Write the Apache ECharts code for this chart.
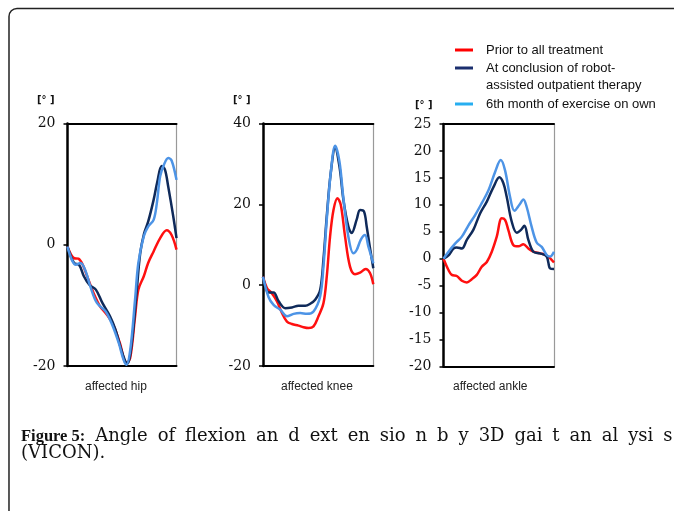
<!DOCTYPE html>
<html>
<head>
<meta charset="utf-8">
<script src="https://cdn.jsdelivr.net/npm/echarts@6/dist/echarts.min.js"></script>
<style>
html,body{margin:0;padding:0;background:#fff;}
#chart{width:674px;height:511px;}
</style>
</head>
<body>
<div id="chart"></div>
<script>
// Series names (legend)
const seriesNames = [
  'Prior to all treatment',
  'At conclusion of robot-\nassisted outpatient therapy',
  '6th month of exercise on own'
];
const panelNames = ['affected hip', 'affected knee', 'affected ankle'];
const unitLabel = '[\u00b0 ]';

// y-axis ranges / tick intervals per panel
const hipTicks = {min: -20, max: 20, interval: 20};
const kneeTicks = {min: -20, max: 40, interval: 20};
const ankleTicks = {min: -20, max: 25, interval: 5};

// data: [gait cycle %, angle deg]
const hipPrior = [[0,-0.3],[6,-2.2],[10,-2.3],[14,-3.3],[18,-5.2],[24,-8],[30,-10.2],[36,-11.5],[42,-13.2],[48,-16.2],[54,-19.5],[57.5,-18.7],[62,-11.8],[65,-7.4],[70,-5.2],[74,-3],[79,-1.1],[85,1.1],[91,2.4],[95.5,1.6],[100,-0.8]];
const hipRobot = [[0,-0.3],[6,-3],[10.6,-3.3],[15,-5.2],[20,-6.6],[26,-7.4],[32,-9.6],[39,-11.8],[44,-14],[48.5,-16.8],[53,-19.2],[55,-19.6],[59,-16.2],[63.6,-7.4],[66.7,-1.4],[70.3,1.9],[74,3.8],[79,7.4],[82.4,10.4],[86.4,13],[89.4,12.4],[92.4,9.6],[97,4.7],[100,1.1]];
const hipOwn = [[0,-0.3],[7.6,-3.3],[12,-3],[16.7,-4.4],[21,-6.9],[27,-9.6],[35,-11],[41,-13.2],[47,-16.2],[51.5,-19],[54,-19.8],[57.6,-17.3],[62,-9],[65,-3],[70,1.4],[74,3],[79,4.1],[82,6.9],[85,11.3],[88.5,13.2],[92.4,14.3],[95.5,13.9],[100,10.7]];

const kneePrior = [[0,2.1],[3.6,-0.7],[8,-2],[12.7,-4],[17.2,-6.9],[21.7,-9],[26.2,-9.6],[32.2,-10],[36.7,-10.4],[41.3,-10.6],[45.8,-10.2],[50.3,-7.7],[54.8,-4.5],[57.8,2.1],[60.8,12],[63.9,18.6],[67.5,21.5],[70.5,19.9],[74.4,12],[78.9,4.6],[83.4,2.7],[88,3.1],[93.1,4],[97,3],[100,0.2]];
const kneeRobot = [[0,2.1],[5.1,-1.8],[9.6,-1.8],[14.2,-4],[20.2,-5.7],[26.2,-5.5],[32.2,-5.1],[38.3,-5.1],[42.8,-4.6],[47.3,-3.6],[51.8,-1.2],[54.8,6.3],[57.8,17],[61.4,27.7],[65.4,33.9],[69.3,29.4],[72.9,21.1],[77.4,14.5],[80.4,12.9],[84.9,16.2],[88,18.6],[91.6,18.2],[94,14.5],[97,9.2],[100,4.2]];
const kneeOwn = [[0,2.1],[5.1,-3],[9.6,-4.9],[15.7,-6.1],[21.7,-7.7],[27.7,-7.1],[33.7,-6.9],[39.8,-7.1],[45.8,-6.5],[51.8,-2.8],[54.8,4.6],[57.8,16.2],[61.4,27.7],[65.4,34.5],[69.3,30.6],[72.9,21.5],[77.4,12],[81.9,7.9],[84.9,8.7],[88.6,11.2],[92.5,12.4],[95.5,9.6],[100,5.4]];

const anklePrior = [[0,0],[4.5,-2.1],[7.5,-3],[12,-3.2],[16.6,-4.1],[21.1,-4.4],[25.6,-3.8],[30.1,-3],[34.6,-1.5],[39.2,-0.6],[43.7,1.3],[48.2,4.1],[52.7,7.5],[55.7,7.2],[58.7,5.3],[63.3,2.5],[67.8,2.3],[72.3,2.7],[76.8,1.9],[81.3,1.3],[87.3,1],[93.4,0.6],[100,-0.7]];
const ankleRobot = [[0,0],[4.5,0.6],[9,1.9],[12,2.1],[16.6,1.9],[21.1,3.5],[27.1,5.4],[33.1,8.4],[39.2,10.6],[45.2,13.3],[50.6,15.1],[54.2,14],[57.2,11.5],[61.7,6.9],[66.3,4.8],[69.9,5.3],[73.2,6.1],[76.8,3.5],[81.3,1.3],[87.3,1],[93.4,0.4],[96.4,-1.8],[100,-1.9]];
const ankleOwn = [[0,0],[4.5,1.3],[10.5,2.8],[16.6,4.1],[22.6,6.2],[28.6,8.1],[34.6,10.3],[40.7,12.7],[46.7,16.1],[51.8,18.3],[55.7,16.4],[60.2,11.5],[64.2,8.9],[68.7,10],[72.3,11],[75.3,9.6],[79.8,5.9],[84.3,3],[88.9,2.2],[93.4,0.7],[96.4,0.4],[100,1.3]];

const captionBold = 'Figure 5:';
const captionWords = ['Angle', 'of', 'flexion', 'an', 'd', 'ext', 'en', 'sio', 'n', 'b', 'y', '3D', 'gai', 't', 'an', 'al', 'ysi', 's'];
const captionLine2 = '(VICON).';

// ---- build option ----
const lineColors = ['#ff1010', '#0f2a5a', '#4d94e6'];
const legendColors = ['#ff0000', '#1b2f6e', '#27aef0'];

const panels = [
  {ticks: hipTicks, data: [hipPrior, hipRobot, hipOwn], grid: {left: 67.5, top: 123.5, width: 109, height: 242.5}, unit: {left: 37, top: 95}, name: {left: 85, top: 381}},
  {ticks: kneeTicks, data: [kneePrior, kneeRobot, kneeOwn], grid: {left: 263, top: 123.5, width: 110.3, height: 242.5}, unit: {left: 233, top: 95}, name: {left: 281, top: 381}},
  {ticks: ankleTicks, data: [anklePrior, ankleRobot, ankleOwn], grid: {left: 443.5, top: 124, width: 110.5, height: 242.5}, unit: {left: 415, top: 100}, name: {left: 453, top: 381}}
];

const grids = [], xAxes = [], yAxes = [], series = [], titles = [];
panels.forEach((p, i) => {
  grids.push(Object.assign({containLabel: false}, p.grid));
  xAxes.push({gridIndex: i, type: 'value', min: 0, max: 100, position: 'bottom',
    axisLine: {show: true, onZero: false, lineStyle: {color: '#000', width: 2}},
    axisTick: {show: false}, axisLabel: {show: false}, splitLine: {show: false}});
  xAxes.push({gridIndex: i, type: 'value', min: 0, max: 100, position: 'top',
    axisLine: {show: true, onZero: false, lineStyle: {color: '#000', width: 2}},
    axisTick: {show: false}, axisLabel: {show: false}, splitLine: {show: false}});
  yAxes.push({gridIndex: i, type: 'value', min: p.ticks.min, max: p.ticks.max, interval: p.ticks.interval, position: 'left',
    axisLine: {show: true, onZero: false, lineStyle: {color: '#000', width: 2.5}},
    axisTick: {show: true, length: 4, lineStyle: {color: '#000', width: 1.5}},
    axisLabel: {fontFamily: 'DejaVu Serif', fontSize: 14, color: '#111', margin: 12},
    splitLine: {show: false}});
  yAxes.push({gridIndex: i, type: 'value', min: p.ticks.min, max: p.ticks.max, interval: p.ticks.interval, position: 'right',
    axisLine: {show: true, onZero: false, lineStyle: {color: '#999', width: 1.2}},
    axisTick: {show: false}, axisLabel: {show: false}, splitLine: {show: false}});
  p.data.forEach((d, k) => {
    series.push({type: 'line', name: seriesNames[k], xAxisIndex: i * 2, yAxisIndex: i * 2,
      data: d, smooth: 0.35, showSymbol: false, symbol: 'none',
      lineStyle: {color: lineColors[k], width: 2.5}, itemStyle: {color: lineColors[k]},
      z: 3 + k, animation: false});
  });
  titles.push({text: unitLabel, left: p.unit.left, top: p.unit.top, padding: 0,
    textStyle: {fontFamily: 'DejaVu Sans', fontSize: 10, fontWeight: 'bold', color: '#111'}});
  titles.push({text: panelNames[i], left: p.name.left, top: p.name.top, padding: 0,
    textStyle: {fontFamily: 'Liberation Sans', fontSize: 12, fontWeight: 'normal', color: '#222'}});
});

const captionRich = '{b|' + captionBold + '}{g| }' + captionWords.join('{g| }') + '\n' + captionLine2;
titles.push({text: captionRich, left: 21, top: 428, padding: 0,
  textStyle: {fontFamily: 'DejaVu Serif', fontSize: 18, lineHeight: 17, fontWeight: 'normal', color: '#111',
    rich: {
      b: {fontFamily: 'Liberation Serif', fontWeight: 'bold', fontSize: 16.5, lineHeight: 17, color: '#111'},
      g: {fontFamily: 'DejaVu Serif', fontSize: 18, lineHeight: 17, padding: [0, 2.1, 0, 2.1]}
    }}});

const legendBase = {orient: 'vertical', left: 455, padding: 0, icon: 'rect', itemWidth: 18, itemHeight: 3,
  selectedMode: false, itemStyle: {borderWidth: 0}};
const legendText = {fontFamily: 'Liberation Sans', fontSize: 13, lineHeight: 17, color: '#111', padding: [0, 0, 0, 8]};
const legends = [
  Object.assign({}, legendBase, {top: 41.5, data: [{name: seriesNames[0], itemStyle: {color: legendColors[0]}}],
    textStyle: legendText}),
  Object.assign({}, legendBase, {top: 42.5, data: [{name: seriesNames[1], itemStyle: {color: legendColors[1]}}],
    textStyle: legendText, formatter: function (name) { return '\n' + name; }}),
  Object.assign({}, legendBase, {top: 95.5, data: [{name: seriesNames[2], itemStyle: {color: legendColors[2]}}],
    textStyle: legendText})
];

const option = {
  animation: false,
  backgroundColor: '#fff',
  title: titles,
  legend: legends,
  grid: grids,
  xAxis: xAxes,
  yAxis: yAxes,
  series: series,
  graphic: [{type: 'rect', shape: {x: 9, y: 8.5, width: 720, height: 620, r: 8}, silent: true,
    style: {fill: 'none', stroke: '#222', lineWidth: 1.5}}]
};

const chart = echarts.init(document.getElementById('chart'), null, {renderer: 'canvas'});
chart.setOption(option);
</script>
</body>
</html>
